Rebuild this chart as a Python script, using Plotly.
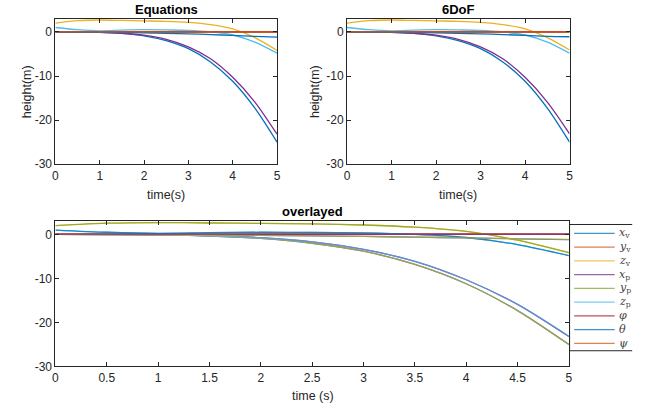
import plotly.graph_objects as go

# ---------------- data ----------------
t = [0, 0.5, 1, 1.5, 2, 2.5, 3, 3.5, 4, 4.5, 5]

# Equations model
eq_xv = [0, -0.02, -0.1, -0.35, -0.9, -2.0, -3.8, -6.8, -11.2, -17.3, -25.0]
eq_yv = [0, 0, 0, 0, 0, 0, 0, 0, 0, 0, 0]
eq_zv = [2.0, 2.55, 2.7, 2.6, 2.5, 2.4, 2.15, 1.65, 0.7, -1.3, -4.2]
eq_xp = [0, 0, -0.08, -0.3, -0.75, -1.7, -3.4, -6.1, -10.3, -15.9, -23.2]
eq_yp = [0, 0, 0, 0, 0, 0, 0, 0, 0, 0, 0]
eq_zp = [1.0, 0.5, 0.25, 0.4, 0.5, 0.45, 0.35, 0.0, -0.7, -2.3, -4.8]
eq_phi = [0, 0, 0, 0, 0, 0, 0, 0, 0, 0, 0]
eq_theta = [0, -0.02, -0.05, -0.12, -0.2, -0.32, -0.45, -0.6, -0.8, -1.0, -1.2]
eq_psi = [0, 0, 0, 0, 0, 0, 0, 0, 0, 0, 0]

# 6DoF model
sd_xv = [0, -0.02, -0.1, -0.35, -0.9, -2.0, -3.8, -6.8, -11.2, -17.3, -25.0]
sd_yv = [0, 0, 0, 0, 0, 0, 0, 0, 0, 0, 0]
sd_zv = [2.0, 2.55, 2.7, 2.6, 2.5, 2.4, 2.15, 1.65, 0.7, -1.3, -4.1]
sd_xp = [0, 0, -0.08, -0.3, -0.75, -1.7, -3.4, -6.1, -10.3, -15.9, -23.1]
sd_yp = [0, 0, 0, 0, 0, 0, 0, 0, 0, 0, 0]
sd_zp = [1.0, 0.5, 0.25, 0.4, 0.5, 0.45, 0.35, 0.0, -0.7, -2.3, -4.8]
sd_phi = [0, 0, 0, 0, 0, 0, 0, 0, 0, 0, 0]
sd_theta = [0, -0.02, -0.05, -0.12, -0.2, -0.32, -0.45, -0.6, -0.8, -1.0, -1.1]
sd_psi = [0, 0, 0, 0, 0, 0, 0, 0, 0, 0, 0]

labels = ["<i>x</i><sub>v</sub>", "<i>y</i><sub>v</sub>", "<i>z</i><sub>v</sub>",
          "<i>x</i><sub>p</sub>", "<i>y</i><sub>p</sub>", "<i>z</i><sub>p</sub>",
          "<i>φ</i>", "<i>θ</i>", "<i>ψ</i>"]

titles = ["Equations", "6DoF", "overlayed"]
y_ticks = [-30, -20, -10, 0]
y_ticktext = ["-30", "-20", "-10", "0"]

eq_series = [eq_xv, eq_yv, eq_zv, eq_xp, eq_yp, eq_zp, eq_phi, eq_theta, eq_psi]
sd_series = [sd_xv, sd_yv, sd_zv, sd_xp, sd_yp, sd_zp, sd_phi, sd_theta, sd_psi]

colors = ["#0072BD", "#D95319", "#EDB120", "#7E2F8E", "#77AC30",
          "#4DBEEE", "#A2142F"]

W, H = 655, 419
FONT = "Liberation Sans, Arial, Helvetica, sans-serif"
AX = "#262626"

def px_x(p):
    return p / W

def px_y(p):
    return 1 - p / H

fig = go.Figure()

def add_lines(series, xa, ya, start, opacity=1.0):
    for i, s in enumerate(series):
        fig.add_trace(go.Scatter(
            x=t, y=s, mode="lines", xaxis=xa, yaxis=ya,
            line=dict(color=colors[(start + i) % 7], width=1.3, shape="spline", smoothing=0.8),
            opacity=opacity, showlegend=False, hoverinfo="skip"))

add_lines(eq_series, "x", "y", 0)
add_lines(sd_series, "x2", "y2", 0)
add_lines(eq_series, "x3", "y3", 0)
add_lines(sd_series, "x3", "y3", 9, opacity=0.7)

def xaxis(domain, anchor, dtick):
    return dict(domain=domain, anchor=anchor, range=[0, 5], dtick=dtick,
                showgrid=False, zeroline=False, showline=True, linecolor=AX,
                linewidth=1, mirror="ticks", ticks="inside", ticklen=4,
                tickcolor=AX, tickfont=dict(family=FONT, size=12, color=AX))

def yaxis(domain, anchor):
    return dict(domain=domain, anchor=anchor, range=[-30, 3],
                tickvals=y_ticks, ticktext=y_ticktext,
                showgrid=False, zeroline=False, showline=True, linecolor=AX,
                linewidth=1, mirror="ticks", ticks="inside", ticklen=4,
                tickcolor=AX, tickfont=dict(family=FONT, size=12, color=AX))

top_dom = [px_y(167), px_y(19)]
bot_dom = [px_y(372.7), px_y(225)]

fig.update_layout(
    width=W, height=H, margin=dict(l=0, r=0, t=0, b=0),
    paper_bgcolor="white", plot_bgcolor="white", showlegend=False,
    xaxis=xaxis([px_x(53), px_x(277)], "y", 1),
    yaxis=yaxis(top_dom, "x"),
    xaxis2=xaxis([px_x(347.7), px_x(572.7)], "y2", 1),
    yaxis2=yaxis(top_dom, "x2"),
    xaxis3=xaxis([px_x(53), px_x(572)], "y3", 0.5),
    yaxis3=yaxis(bot_dom, "x3"),
)

ann = []
def text(x, y, s, size=12, bold=False, angle=0, xanchor="center", fam=FONT, color=AX):
    ann.append(dict(x=px_x(x), y=px_y(y), xref="paper", yref="paper", text=("<b>%s</b>" % s) if bold else s,
                    showarrow=False, xanchor=xanchor, yanchor="middle", textangle=angle,
                    font=dict(family=fam, size=size, color=color if not bold else "black")))

text(165, 10, titles[0], size=13, bold=True)
text(460, 10, titles[1], size=13, bold=True)
text(312.5, 215.5, titles[2], size=13, bold=True)
text(165, 198, "time(s)", size=12.5)
text(460, 198, "time(s)", size=12.5)
text(313, 403, "time (s)", size=12.5)
text(25, 93, "height(m)", size=12.5, angle=-90)
text(316, 93, "height(m)", size=12.5, angle=-90)

# legend box (manual)
shapes = []
lx0, lx1, ly0, ly1 = 572.7, 636, 228.3, 356.7
for (a, b, c, d) in [(lx0, ly0, lx1, ly0), (lx0, ly1, lx1, ly1), (lx0, ly0, lx0, ly1)]:
    shapes.append(dict(type="line", xref="paper", yref="paper",
                       x0=px_x(a), y0=px_y(b), x1=px_x(c), y1=px_y(d),
                       line=dict(color=AX, width=1)))
for i, lab in enumerate(labels):
    yc = 237.3 + i * 14.0
    shapes.append(dict(type="line", xref="paper", yref="paper",
                       x0=px_x(577.3), x1=px_x(618.3), y0=px_y(yc), y1=px_y(yc),
                       line=dict(color=colors[i % 7], width=1.2), opacity=0.75))
    text(621, yc, lab, size=11, xanchor="left", fam="DejaVu Serif, serif", color="#444")

fig.update_layout(annotations=ann, shapes=shapes)
fig.write_html("out.html", config={"displayModeBar": False},
               post_script="document.body.style.margin='0';document.body.style.overflow='hidden';")
